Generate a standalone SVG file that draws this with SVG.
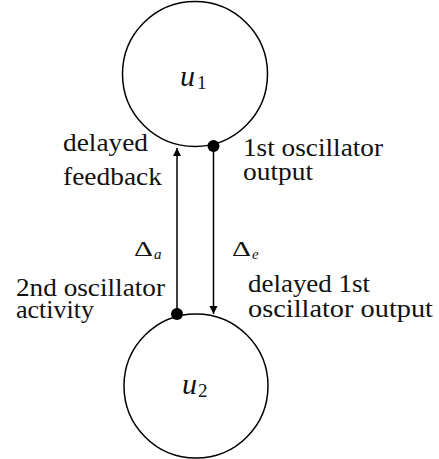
<svg xmlns="http://www.w3.org/2000/svg" width="439" height="459" viewBox="0 0 439 459">
<style>
.node{fill:none;stroke:#000;stroke-width:1.5}
.lbl{font-family:"Liberation Serif","Times New Roman",serif;font-size:26px;fill:#111}
.math{font-family:"Liberation Serif","Times New Roman",serif;font-style:italic;fill:#111}
.sub{font-family:"Liberation Serif","Times New Roman",serif;fill:#111}
.conn{stroke:#000;stroke-width:1.5;fill:none}
.dot{fill:#000}
</style>
<defs>
<marker id="ah" viewBox="0 0 10 10" refX="10" refY="5" markerWidth="8" markerHeight="9" markerUnits="userSpaceOnUse" orient="auto">
<path d="M0,0 L10,5 L0,10 z" fill="#000"/>
</marker>
</defs>
<rect width="439" height="459" fill="#fff"/>
<g id="u1">
<circle class="node" cx="195" cy="74" r="72.5"/>
<text class="math" x="180" y="86" font-size="30">u</text>
<text class="sub" x="197" y="89" font-size="19">1</text>
</g>
<g id="u2">
<circle class="node" cx="196" cy="386" r="72"/>
<text class="math" x="182" y="394" font-size="30">u</text>
<text class="sub" x="198" y="397" font-size="19">2</text>
</g>
<g id="connectors">
<line class="conn" x1="177" y1="314" x2="177" y2="148" marker-end="url(#ah)"/>
<line class="conn" x1="213.5" y1="146" x2="213.5" y2="314" marker-end="url(#ah)"/>
<circle class="dot" cx="213.5" cy="146" r="6"/>
<circle class="dot" cx="177" cy="314" r="6"/>
</g>
<g id="labels">
<text class="lbl" x="63" y="151" textLength="85" lengthAdjust="spacingAndGlyphs">delayed</text>
<text class="lbl" x="63" y="185" textLength="99" lengthAdjust="spacingAndGlyphs">feedback</text>
<text class="lbl" x="243" y="156" textLength="140" lengthAdjust="spacingAndGlyphs">1st oscillator</text>
<text class="lbl" x="243" y="180" textLength="70" lengthAdjust="spacingAndGlyphs">output</text>
<text class="lbl" x="16" y="296" textLength="149" lengthAdjust="spacingAndGlyphs">2nd oscillator</text>
<text class="lbl" x="16" y="318" textLength="78" lengthAdjust="spacingAndGlyphs">activity</text>
<text class="lbl" x="248" y="292" textLength="122" lengthAdjust="spacingAndGlyphs">delayed 1st</text>
<text class="lbl" x="248" y="317" textLength="185" lengthAdjust="spacingAndGlyphs">oscillator output</text>
<text class="sub" x="134" y="256" font-size="20" textLength="19" lengthAdjust="spacingAndGlyphs">Δ</text>
<text class="math" x="154" y="259" font-size="15">a</text>
<text class="sub" x="232" y="256" font-size="20" textLength="19" lengthAdjust="spacingAndGlyphs">Δ</text>
<text class="math" x="252" y="259" font-size="15">e</text>
</g>
</svg>
